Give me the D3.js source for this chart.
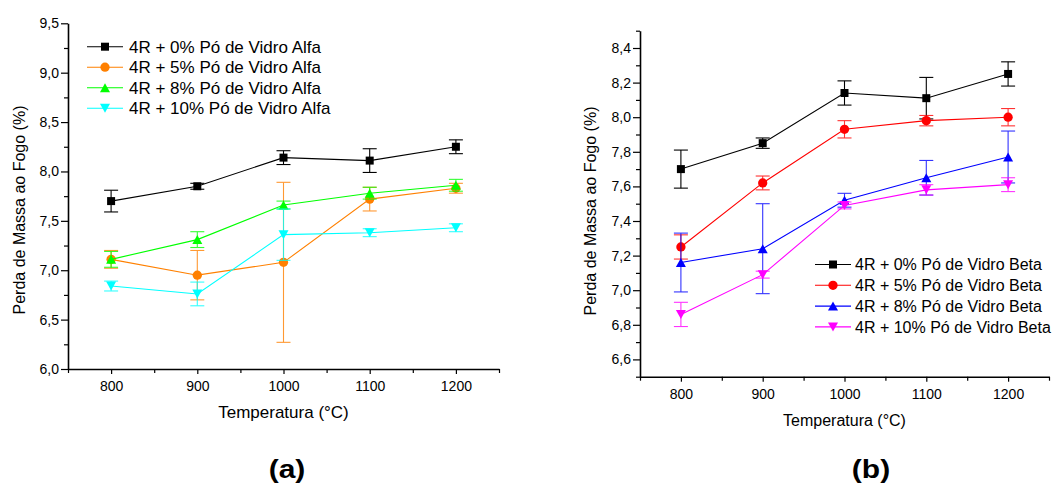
<!DOCTYPE html>
<html>
<head>
<meta charset="utf-8">
<script src="https://cdn.jsdelivr.net/npm/d3@7"></script>
<style>
  body { margin: 0; background: #fff; }
  svg { display: block; }
  text { font-family: "Liberation Sans", Arial, sans-serif; fill: #000; }
</style>
</head>
<body>
<svg id="chart" width="1053" height="486"></svg>
<script>
// Firing temperatures (°C)
const temperatures = [800, 900, 1000, 1100, 1200];
const xTickValues = [800, 900, 1000, 1100, 1200];
const xMinorTicks = [750, 850, 950, 1050, 1150, 1250];

// Y-axis ticks for each panel
const yTicksAlfa = [6.0, 6.5, 7.0, 7.5, 8.0, 8.5, 9.0, 9.5];
const yMinorAlfa = [6.25, 6.75, 7.25, 7.75, 8.25, 8.75, 9.25];
const yTicksBeta = [6.6, 6.8, 7.0, 7.2, 7.4, 7.6, 7.8, 8.0, 8.2, 8.4];
const yMinorBeta = [6.5, 6.7, 6.9, 7.1, 7.3, 7.5, 7.7, 7.9, 8.1, 8.3, 8.5];

// Series names
const labelsAlfa = ["4R + 0% Pó de Vidro Alfa", "4R + 5% Pó de Vidro Alfa",
                    "4R + 8% Pó de Vidro Alfa", "4R + 10% Pó de Vidro Alfa"];
const labelsBeta = ["4R + 0% Pó de Vidro Beta", "4R + 5% Pó de Vidro Beta",
                    "4R + 8% Pó de Vidro Beta", "4R + 10% Pó de Vidro Beta"];

// Loss on ignition (%) and standard deviation — glass powder Alfa
const alfa0 = [7.70, 7.85, 8.14, 8.11, 8.25];
const alfa0Err = [0.11, 0.03, 0.07, 0.12, 0.07];
const alfa5 = [7.11, 6.95, 7.08, 7.72, 7.83];
const alfa5Err = [0.09, 0.25, 0.81, 0.12, 0.05];
const alfa8 = [7.11, 7.31, 7.66, 7.78, 7.86];
const alfa8Err = [0.08, 0.08, 0.04, 0.06, 0.06];
const alfa10 = [6.84, 6.76, 7.36, 7.38, 7.43];
const alfa10Err = [0.05, 0.12, 0.26, 0.04, 0.04];

// Loss on ignition (%) and standard deviation — glass powder Beta
const beta0 = [7.70, 7.85, 8.14, 8.11, 8.25];
const beta0Err = [0.11, 0.03, 0.07, 0.12, 0.07];
const beta5 = [7.25, 7.62, 7.93, 7.98, 8.00];
const beta5Err = [0.07, 0.04, 0.05, 0.03, 0.05];
const beta8 = [7.16, 7.24, 7.52, 7.65, 7.77];
const beta8Err = [0.17, 0.26, 0.04, 0.10, 0.15];
const beta10 = [6.86, 7.09, 7.49, 7.58, 7.61];
const beta10Err = [0.07, 0.02, 0.02, 0.03, 0.04];

const markerShapes = ["square", "circle", "up", "down"];
const colorsAlfa = ["#000000", "#ff8000", "#00ff00", "#00ffff"];
const colorsBeta = ["#000000", "#ff0000", "#0000ff", "#ff00ff"];

const commaFmt = d3.formatLocale({ decimal: ",", thousands: ".", grouping: [3], currency: ["", ""] }).format(".1f");

const svg = d3.select("#chart");

function markerPath(shape) {
  if (shape === "square") return d3.symbol(d3.symbolSquare, 64)();
  if (shape === "circle") return d3.symbol(d3.symbolCircle, 68)();
  if (shape === "up") return "M0,-4.5L5,4.5L-5,4.5Z";
  return "M0,4.5L5,-4.5L-5,-4.5Z";
}

function drawPanel(cfg) {
  const g = svg.append("g");
  const x = d3.scaleLinear().domain([750, 1250]).range([cfg.left, cfg.right]);
  const y = d3.scaleLinear().domain(cfg.yDomain).range([cfg.bottom, cfg.top]);

  // Axes: major and minor ticks
  const xAxis = g.append("g").attr("transform", `translate(0,${cfg.bottom})`)
    .call(d3.axisBottom(x).tickValues(xTickValues).tickSize(5).tickSizeOuter(0).tickPadding(7).tickFormat(d3.format("d")));
  g.append("g").attr("transform", `translate(0,${cfg.bottom})`)
    .call(d3.axisBottom(x).tickValues(xMinorTicks).tickSize(4).tickFormat(""))
    .select(".domain").remove();
  const yAxis = g.append("g").attr("transform", `translate(${cfg.left},0)`)
    .call(d3.axisLeft(y).tickValues(cfg.yTicks).tickSize(7).tickSizeOuter(0).tickPadding(2).tickFormat(commaFmt));
  g.append("g").attr("transform", `translate(${cfg.left},0)`)
    .call(d3.axisLeft(y).tickValues(cfg.yMinor).tickSize(4).tickFormat(""))
    .select(".domain").remove();

  g.selectAll(".domain").attr("stroke-width", 1.6);
  g.selectAll(".tick line").attr("stroke-width", 1.2);
  xAxis.selectAll("text").attr("font-size", cfg.tickFont).attr("font-family", null);
  yAxis.selectAll("text").attr("font-size", cfg.tickFont).attr("font-family", null);

  // Axis titles
  g.append("text")
    .attr("x", (cfg.left + cfg.right) / 2).attr("y", cfg.xTitleY)
    .attr("text-anchor", "middle").attr("font-size", cfg.xTitleFont)
    .text("Temperatura (°C)");
  g.append("text")
    .attr("transform", `translate(${cfg.yTitleX},${cfg.yTitleCenter}) rotate(-90)`)
    .attr("text-anchor", "middle").attr("font-size", 16)
    .text("Perda de Massa ao Fogo (%)");

  // Series: error bars, connecting line, markers
  const line = d3.line().x(d => x(d.t)).y(d => y(d.v));
  cfg.series.forEach((s, i) => {
    const pts = temperatures.map((t, k) => ({ t, v: s.values[k], e: s.errors[k] }));
    const sg = g.append("g");
    const eb = sg.append("g").attr("stroke", s.color).attr("stroke-width", 1.1).attr("opacity", i === 0 ? 1 : 0.8);
    pts.forEach(p => {
      const cx = x(p.t), y1 = y(p.v + p.e), y2 = y(p.v - p.e);
      eb.append("line").attr("x1", cx).attr("x2", cx).attr("y1", y1).attr("y2", y2);
      eb.append("line").attr("x1", cx - 7).attr("x2", cx + 7).attr("y1", y1).attr("y2", y1);
      eb.append("line").attr("x1", cx - 7).attr("x2", cx + 7).attr("y1", y2).attr("y2", y2);
    });
    sg.append("path").datum(pts).attr("d", line)
      .attr("fill", "none").attr("stroke", s.color).attr("stroke-width", 1.1);
    sg.selectAll(".mk").data(pts).join("path")
      .attr("transform", d => `translate(${x(d.t)},${y(d.v)})`)
      .attr("d", markerPath(s.shape)).attr("fill", s.color);
  });

  // Legend
  const lg = g.append("g");
  cfg.series.forEach((s, i) => {
    const ry = cfg.legendY + i * cfg.legendStep;
    lg.append("line").attr("x1", cfg.legendX).attr("x2", cfg.legendX + 36)
      .attr("y1", ry).attr("y2", ry).attr("stroke", s.color).attr("stroke-width", 1.1);
    lg.append("path").attr("transform", `translate(${cfg.legendX + 18},${ry})`)
      .attr("d", markerPath(s.shape)).attr("fill", s.color);
    lg.append("text").attr("x", cfg.legendX + cfg.legendTextGap).attr("y", ry).attr("dy", "0.36em")
      .attr("font-size", cfg.legendFont).text(s.label);
  });

  // Panel caption
  g.append("text")
    .attr("transform", `translate(${cfg.captionX},478) scale(1.2,1)`)
    .attr("text-anchor", "middle").attr("font-size", 25).attr("font-weight", "bold")
    .text(cfg.caption);
}

drawPanel({
  left: 68, right: 499, top: 23.3, bottom: 369,
  yDomain: [6.0, 9.5], yTicks: yTicksAlfa, yMinor: yMinorAlfa,
  tickFont: 14, xTitleFont: 17,
  xTitleY: 418, yTitleX: 25, yTitleCenter: 210,
  legendX: 87, legendY: 46.7, legendStep: 20.5, legendFont: 17, legendTextGap: 42,
  caption: "(a)", captionX: 287,
  series: [
    { label: labelsAlfa[0], values: alfa0, errors: alfa0Err, color: colorsAlfa[0], shape: markerShapes[0] },
    { label: labelsAlfa[1], values: alfa5, errors: alfa5Err, color: colorsAlfa[1], shape: markerShapes[1] },
    { label: labelsAlfa[2], values: alfa8, errors: alfa8Err, color: colorsAlfa[2], shape: markerShapes[2] },
    { label: labelsAlfa[3], values: alfa10, errors: alfa10Err, color: colorsAlfa[3], shape: markerShapes[3] }
  ]
});

drawPanel({
  left: 640, right: 1049, top: 30.7, bottom: 376.7,
  yDomain: [6.5, 8.5], yTicks: yTicksBeta, yMinor: yMinorBeta,
  tickFont: 14, xTitleFont: 16,
  xTitleY: 426, yTitleX: 596, yTitleCenter: 211,
  legendX: 815, legendY: 264.5, legendStep: 20.8, legendFont: 16, legendTextGap: 40,
  caption: "(b)", captionX: 871,
  series: [
    { label: labelsBeta[0], values: beta0, errors: beta0Err, color: colorsBeta[0], shape: markerShapes[0] },
    { label: labelsBeta[1], values: beta5, errors: beta5Err, color: colorsBeta[1], shape: markerShapes[1] },
    { label: labelsBeta[2], values: beta8, errors: beta8Err, color: colorsBeta[2], shape: markerShapes[2] },
    { label: labelsBeta[3], values: beta10, errors: beta10Err, color: colorsBeta[3], shape: markerShapes[3] }
  ]
});
</script>
</body>
</html>
